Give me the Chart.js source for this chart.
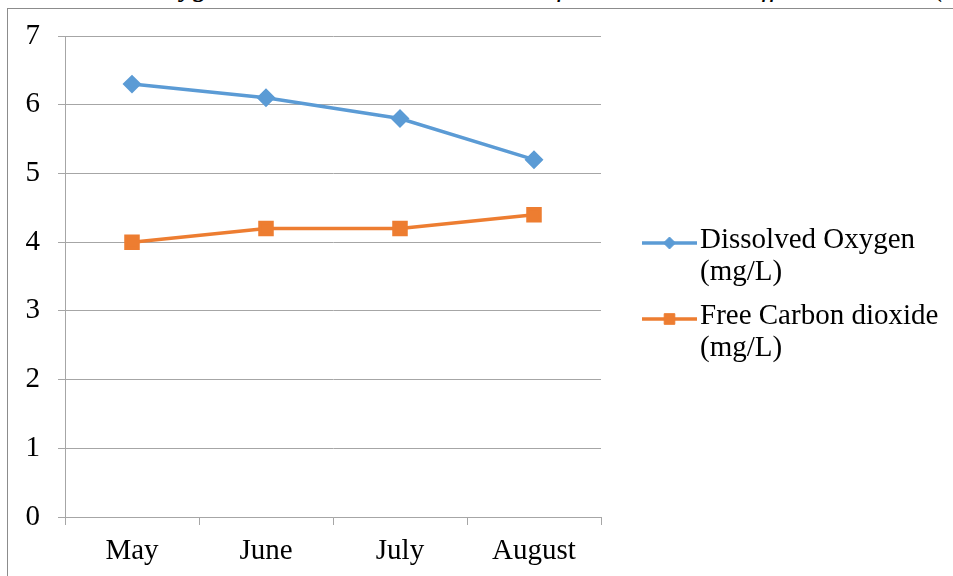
<!DOCTYPE html>
<html>
<head>
<meta charset="utf-8">
<script src="https://cdn.jsdelivr.net/npm/chart.js@4/dist/chart.umd.min.js"></script>
<style>
  html, body { margin: 0; padding: 0; background: #fff; }
  body { width: 953px; height: 576px; position: relative; overflow: hidden; }
  #caption {
    position: absolute; left: 25px; top: -28px; white-space: nowrap;
    font-family: "Liberation Serif", "Times New Roman", serif; font-style: italic;
    font-size: 29px; line-height: 29px; color: #000;
  }
  #frame {
    position: absolute; left: 7px; top: 8px; width: 960px; height: 600px;
    border-left: 1px solid #8c8c8c; border-top: 1px solid #8c8c8c; background: #fff;
  }
  #chart { position: absolute; left: 0; top: 0; }
</style>
</head>
<body>
<div id="caption">Dissolved Oxygen and Free Carbon dioxide of river water at different months (mg/L)</div>
<div id="frame"></div>
<canvas id="chart" width="953" height="576"></canvas>
<script>
// Monthly readings
const months = ['May', 'June', 'July', 'August'];
const dissolvedOxygen = [6.3, 6.1, 5.8, 5.2];
const freeCarbonDioxide = [4.0, 4.2, 4.2, 4.4];
const seriesNames = [
  ['Dissolved Oxygen', '(mg/L)'],
  ['Free Carbon dioxide', '(mg/L)']
];
const yTicks = [0, 1, 2, 3, 4, 5, 6, 7];

const FONT = '"Liberation Serif", "Times New Roman", serif';
const GRID = '#a6a6a6';

// Legend on the right with wrapped two-line entries
const sideLegend = {
  id: 'sideLegend',
  afterDraw(chart) {
    const ctx = chart.ctx;
    const area = chart.chartArea;
    const x0 = area.right + 41;
    const lineLen = 55;
    const tops = [243, 319];
    ctx.save();
    chart.data.datasets.forEach((ds, i) => {
      const y = tops[i];
      ctx.strokeStyle = ds.borderColor;
      ctx.lineWidth = ds.borderWidth;
      ctx.beginPath();
      ctx.moveTo(x0, y);
      ctx.lineTo(x0 + lineLen, y);
      ctx.stroke();
      ctx.fillStyle = ds.pointBackgroundColor;
      ctx.strokeStyle = ds.pointBorderColor;
      ctx.lineWidth = 1;
      Chart.helpers.drawPoint(ctx, {
        pointStyle: ds.pointStyle, radius: ds.pointRadius - 1, borderWidth: 1, rotation: 0
      }, x0 + lineLen / 2, y);
      ctx.fillStyle = '#000';
      ctx.font = '29px ' + FONT;
      ctx.textBaseline = 'alphabetic';
      ctx.textAlign = 'left';
      seriesNames[i].forEach((t, j) => {
        ctx.fillText(t, x0 + lineLen + 3, y + 5 + j * 32);
      });
    });
    ctx.restore();
  }
};

new Chart(document.getElementById('chart'), {
  type: 'line',
  data: {
    labels: months,
    datasets: [
      {
        label: seriesNames[0].join(' '),
        data: dissolvedOxygen,
        borderColor: '#5b9bd5',
        backgroundColor: '#5b9bd5',
        pointBackgroundColor: '#5b9bd5',
        pointBorderColor: '#5b9bd5',
        borderWidth: 3.5,
        pointStyle: 'rectRot',
        pointRadius: 7,
        tension: 0
      },
      {
        label: seriesNames[1].join(' '),
        data: freeCarbonDioxide,
        borderColor: '#ed7d31',
        backgroundColor: '#ed7d31',
        pointBackgroundColor: '#ed7d31',
        pointBorderColor: '#ed7d31',
        borderWidth: 3.5,
        pointStyle: 'rect',
        pointRadius: 8.5,
        tension: 0
      }
    ]
  },
  options: {
    responsive: false,
    devicePixelRatio: 1,
    animation: false,
    layout: { padding: { left: 0, top: 36, right: 352, bottom: 0 } },
    plugins: { legend: { display: false }, tooltip: { enabled: false } },
    scales: {
      x: {
        offset: true,
        grid: { offset: true, drawOnChartArea: false, drawTicks: true, tickLength: 8, color: GRID },
        border: { color: GRID, width: 1 },
        ticks: { color: '#000', font: { family: FONT, size: 29 }, padding: 9 },
        afterFit(s) { s.height = 59; }
      },
      y: {
        min: 0,
        max: 7,
        afterBuildTicks(s) { s.ticks = yTicks.map(v => ({ value: v })); },
        grid: { color: GRID, tickLength: 7, drawTicks: true },
        border: { color: GRID, width: 1 },
        ticks: { color: '#000', font: { family: FONT, size: 29 }, padding: 18 },
        afterFit(s) { s.width = 65; }
      }
    }
  },
  plugins: [sideLegend]
});
</script>
</body>
</html>
